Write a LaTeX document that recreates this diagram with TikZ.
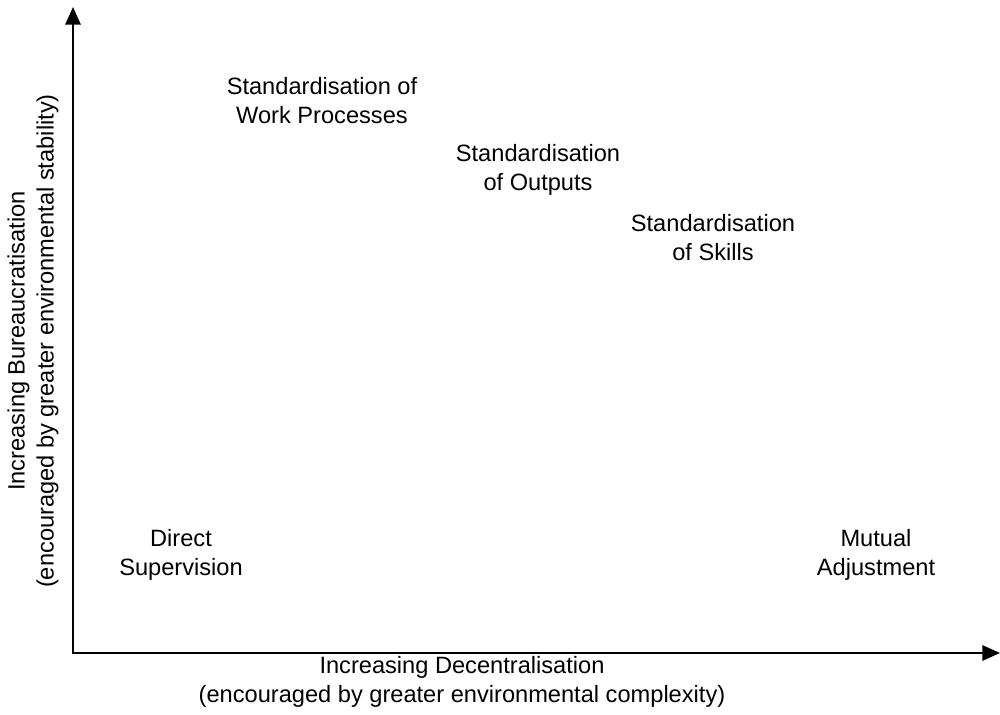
\documentclass[tikz,border=0pt]{standalone}
\usepackage{fontspec}
\setmainfont{Liberation Sans}
\usetikzlibrary{positioning, arrows.meta}

\begin{document}
\begin{tikzpicture}[
    x=0.025cm, y=-0.025cm,
    label/.style={align=center, inner sep=0pt,
                  font=\fontsize{16.8pt}{20.6pt}\selectfont},
    axis/.style={line width=1.6pt, {Triangle[length=0.44cm, width=0.38cm]}-{Triangle[length=0.44cm, width=0.38cm]}},
  ]
    \useasboundingbox (0,0) rectangle (1000,715);

    % axes
    \coordinate (O) at (73,653);
    \coordinate (YEND) at (73,7);
    \coordinate (XEND) at (1000,653);
    \draw[axis] (YEND) -- (O) -- (XEND);

    % mechanisms
    \node[label] (SWP) at (322,101) {Standardisation of\\Work Processes};
    \node[label] (SO)  at (538,170) {Standardisation\\of Outputs};
    \node[label] (SS)  at (713,238) {Standardisation\\of Skills};
    \node[label] (DS)  at (181,555) {Direct\\Supervision};
    \node[label] (MA)  at (876,555) {Mutual\\Adjustment};

    % axis labels
    \node[label] (XLAB) at (462,682)
      {Increasing Decentralisation\\(encouraged by greater environmental complexity)};
    \node[label, rotate=90] (YLAB) at (33,341)
      {Increasing Bureaucratisation\\(encouraged by greater environmental stability)};
  \end{tikzpicture}
\end{document}
